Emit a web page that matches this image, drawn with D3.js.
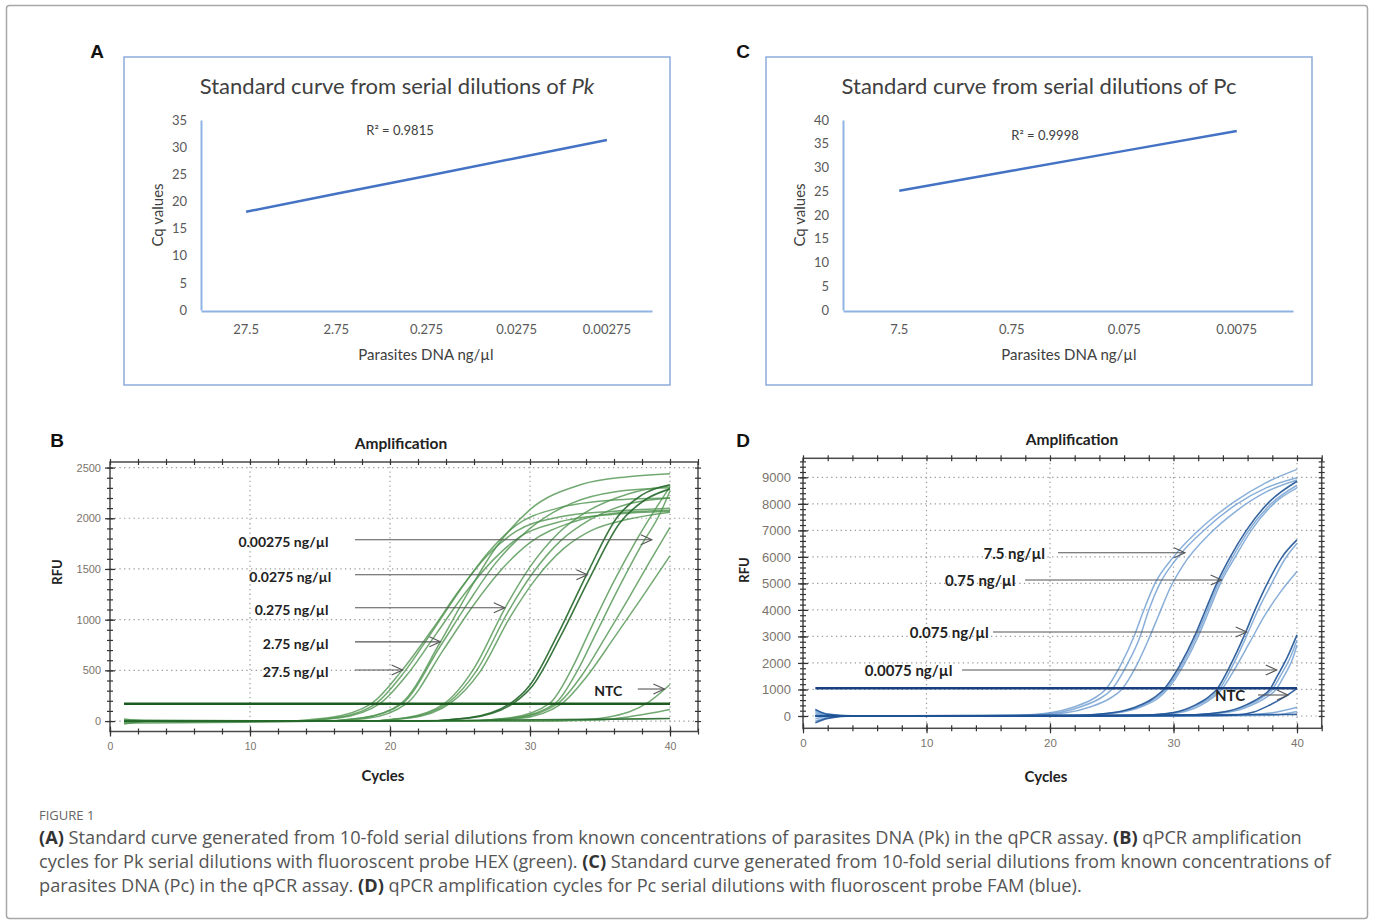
<!DOCTYPE html>
<html>
<head>
<meta charset="utf-8">
<script src="https://cdn.jsdelivr.net/npm/d3@7"></script>
<style>
  body { margin: 0; background: #fff; }
  text { font-family: Lato, "Open Sans", sans-serif; }
</style>
</head>
<body>
<script>
// ---- standard curves (A, C) ----
const pkDilutions = ["27.5", "2.75", "0.275", "0.0275", "0.00275"];
const pkCq = [18.1, 21.4, 24.7, 28.0, 31.3];
const pkCqTicks = [0, 5, 10, 15, 20, 25, 30, 35];

const pcDilutions = ["7.5", "0.75", "0.075", "0.0075"];
const pcCq = [25.1, 29.3, 33.5, 37.7];
const pcCqTicks = [0, 5, 10, 15, 20, 25, 30, 35, 40];

// ---- amplification curves (B, D): [cycle, RFU] ----
const cycleTicks = [0, 10, 20, 30, 40];
const pkRfuTicks = [0, 500, 1000, 1500, 2000, 2500];
const pcRfuTicks = [0, 1000, 2000, 3000, 4000, 5000, 6000, 7000, 8000, 9000];
const pkThreshold = 170;
const pcThreshold = 1044;

const pkCurves = [
  [[1,-30],[3,0],[12,0],[15.5,30],[18.7,175],[20.8,490],[23,900],[25,1300],[27,1640],[29,1870],[32,2010],[36,2070],[40,2100]],
  [[1,20],[3,0],[13,0],[16,30],[19,175],[21,480],[23,880],[25,1290],[27,1660],[29,1930],[32,2100],[36,2180],[40,2200]],
  [[1,-10],[3,0],[13,0],[16.3,30],[19.3,175],[21.3,470],[23.3,860],[25.3,1250],[27.3,1580],[29.3,1820],[32,1960],[36,2040],[40,2070]],
  [[1,0],[15,0],[18,30],[20.8,175],[23.6,780],[25.5,1250],[27.5,1700],[30,2085],[33.6,2330],[37,2410],[40,2440]],
  [[1,10],[15,0],[18,30],[20.9,175],[23.6,740],[25.5,1150],[27.5,1550],[30,1900],[33,2150],[36,2260],[40,2300]],
  [[1,-20],[15,0],[18.3,25],[21.2,175],[23.8,700],[26,1150],[28,1500],[30,1760],[33,1960],[36,2050],[40,2080]],
  [[1,0],[18,0],[21,30],[23.9,175],[26,520],[28.2,1110],[30,1520],[32,1850],[34,2060],[37,2240],[40,2320]],
  [[1,0],[18,0],[21.2,30],[24.1,175],[26.2,500],[28.4,1070],[30.2,1460],[32.2,1780],[34.2,1980],[37,2140],[40,2200]],
  [[1,0],[18,0],[21.4,30],[24.3,175],[26.4,480],[28.6,1030],[30.4,1400],[32.4,1700],[34.4,1880],[37,1990],[40,2060]],
  [[1,0],[25,0],[28.5,30],[31.4,175],[33,520],[34.3,900],[36,1380],[37.5,1760],[39,2100],[40,2310]],
  [[1,0],[25,0],[28.8,30],[31.8,175],[33.4,500],[34.7,860],[36.4,1330],[37.9,1720],[39.3,2050],[40,2270]],
  [[1,0],[25,0],[29,30],[32,175],[33.8,470],[35.4,830],[37,1200],[38.5,1560],[40,1910]],
  [[1,0],[25,0],[29.2,25],[32.3,175],[34,430],[36,820],[38,1220],[40,1630]],
  [[1,0],[30,0],[34,15],[36,50],[37.1,92],[38.5,190],[40,360]],
  [[1,0],[30,0],[35,10],[37,40],[38.5,75],[40,115]]
];
const pkCurvesDark = [
  [[1,-5],[20,0],[40,25]],
  [[1,0],[22,0],[25.5,30],[28.6,175],[30,356],[32,860],[34.1,1460],[36.2,2005],[38,2230],[40,2330]],
  [[1,0],[22,0],[25.7,30],[28.8,175],[30.2,350],[32.2,840],[34.3,1420],[36.4,1950],[38.2,2180],[40,2290]]
];

const pcCurves = [
  [[1,220],[2,80],[4,10],[10,0],[17,20],[20,120],[22,350],[23.5,650],[24.5,1000],[25.7,1900],[26.8,3000],[27.6,4000],[28.5,5000],[30,6000],[32.5,7200],[35,8100],[37.5,8800],[40,9300]],
  [[1,-200],[2,-60],[4,0],[10,0],[17,15],[20.5,120],[22.5,350],[24,650],[25,1000],[26.2,1900],[27.3,3000],[28,4000],[28.9,5000],[30.2,5900],[32.7,7100],[35,7950],[37.5,8600],[40,8980]],
  [[1,120],[2,30],[4,0],[10,0],[18,15],[21.3,120],[23.3,350],[24.8,650],[25.8,1000],[27,1900],[27.9,2800],[28.8,3800],[29.7,4800],[30.8,5700],[33,6900],[35,7700],[37.5,8450],[40,8900]],
  [[1,180],[2,50],[4,0],[15,0],[22.2,20],[25.2,120],[27.2,350],[28.5,650],[29.35,1000],[30.65,1900],[31.85,3000],[32.75,4000],[33.65,5000],[34.8,6000],[36.1,7000],[37.9,8000],[40,8700]],
  [[1,-100],[2,-20],[4,0],[15,0],[22.4,20],[25.4,120],[27.4,350],[28.7,650],[29.5,1000],[30.8,1900],[32,3000],[32.9,4000],[33.8,5000],[35,6000],[36.3,7000],[38.1,8000],[40,8600]],
  [[1,60],[4,0],[20,0],[27.2,20],[30.2,130],[31.9,400],[33,700],[33.7,1000],[34.9,2000],[35.9,3000],[36.8,3950],[37.9,4950],[39,5900],[40,6500]],
  [[1,0],[4,0],[20,0],[27.5,20],[30.5,130],[32.2,400],[33.2,700],[33.9,1000],[35,1800],[36.2,2800],[37.4,3800],[38.7,4700],[40,5450]],
  [[1,0],[20,0],[30,20],[34.2,150],[36,400],[37.2,700],[38,1000],[38.7,1550],[39.4,2150],[40,2870]],
  [[1,0],[20,0],[30,20],[34.5,150],[36.3,400],[37.5,700],[38.3,1000],[39,1550],[39.6,2100],[40,2680]],
  [[1,0],[30,0],[36,40],[38,120],[40,330]],
  [[1,0],[32,0],[38,30],[40,170]]
];
const pcCurvesDark = [
  [[1,-260],[2,-90],[4,0],[15,0],[22,20],[25,120],[27,350],[28.3,650],[29.2,1000],[30.5,1900],[31.7,3000],[32.6,4000],[33.5,5000],[34.6,6000],[35.9,7000],[37.6,8000],[40,8850]],
  [[1,0],[4,0],[20,0],[27,20],[30,130],[31.7,400],[32.8,700],[33.5,1000],[34.7,2000],[35.7,3000],[36.6,4000],[37.6,5000],[38.8,6000],[40,6640]],
  [[1,0],[20,0],[30,20],[34,150],[35.8,400],[37,700],[37.8,1000],[38.4,1500],[39.2,2200],[40,3060]],
  [[1,0],[20,0],[33,20],[35.1,40],[36.5,150],[37.8,415],[39,720],[40,1045]],
  [[1,250],[2,60],[4,0],[40,60]]
];

// annotations: label, arrow RFU, arrow start / end cycle, label right edge (cycle)
const pkLabels = ["0.00275 ng/µl", "0.0275 ng/µl", "0.275 ng/µl", "2.75 ng/µl", "27.5 ng/µl", "NTC"];
const pkArrowRfu = [1788, 1443, 1117, 781, 504, 316];
const pkArrowFrom = [17.5, 17.5, 17.5, 17.5, 17.5, 37.7];
const pkArrowTo = [38.7, 34.1, 28.2, 23.6, 20.9, 39.6];
const pkLabelEnd = [15.6, 15.8, 15.6, 15.6, 15.6, 36.6];

const pcLabels = ["7.5 ng/µl", "0.75 ng/µl", "0.075 ng/µl", "0.0075 ng/µl", "NTC"];
const pcArrowRfu = [6157, 5128, 3167, 1734, 792];
const pcArrowFrom = [20.65, 17.98, 15.38, 12.87, 36.84];
const pcArrowTo = [30.93, 33.9, 35.93, 38.36, 39.27];
const pcLabelEnd = [19.6, 17.2, 15.05, 12.1, 35.8];

const captionLines = [
  [["(A)", true], [" Standard curve generated from 10-fold serial dilutions from known concentrations of parasites DNA (Pk) in the qPCR assay. ", false], ["(B)", true], [" qPCR amplification", false]],
  [["cycles for Pk serial dilutions with fluoroscent probe HEX (green). ", false], ["(C)", true], [" Standard curve generated from 10-fold serial dilutions from known concentrations of", false]],
  [["parasites DNA (Pc) in the qPCR assay. ", false], ["(D)", true], [" qPCR amplification cycles for Pc serial dilutions with fluoroscent probe FAM (blue).", false]]
];

let width = 1375;
let height = 923;

let svg = d3.select("body").append("svg")
  .attr("width", width)
  .attr("height", height);

// outer frame
svg.append("rect")
  .attr("x", 6.5).attr("y", 5.5)
  .attr("width", 1361).attr("height", 913)
  .attr("rx", 3)
  .attr("fill", "none")
  .attr("stroke", "#a8a8a8")
  .attr("stroke-width", 1.5);

// panel letters
[["A", 97, 51], ["C", 743, 51], ["B", 57, 440], ["D", 743, 440]].forEach(([t, x, y]) => {
  svg.append("text").attr("x", x).attr("y", y + 7)
    .attr("text-anchor", "middle")
    .style("font-family", "'Liberation Sans', Arial, sans-serif")
    .style("font-weight", "bold").style("font-size", "19px")
    .attr("fill", "#111").text(t);
});

// ---------- standard curve panels ----------
let standardCurve = (o) => {
  let g = svg.append("g");
  g.append("rect")
    .attr("x", o.frame[0]).attr("y", 57)
    .attr("width", o.frame[1] - o.frame[0]).attr("height", 328)
    .attr("fill", "#fff")
    .attr("stroke", "#8eaadb")
    .attr("stroke-width", 1.5);

  let title = g.append("text")
    .attr("x", (o.frame[0] + o.frame[1]) / 2).attr("y", 94)
    .attr("text-anchor", "middle")
    .attr("fill", "#404040")
    .style("font-size", "22px")
    .text(o.title);
  title.append("tspan").style("font-style", o.italic ? "italic" : "normal").text(o.species);

  let x = d3.scaleBand().domain(o.labels).range([o.x0, o.x1]);
  let y = d3.scaleLinear().domain([0, o.yMax]).range([310, 120]);

  let yAxis = g.append("g")
    .attr("transform", `translate(${o.x0},0)`)
    .call(d3.axisLeft(y).tickValues(o.ticks).tickSize(0).tickPadding(14));
  yAxis.select(".domain").attr("stroke", "#8fb4e3").attr("stroke-width", 2);
  yAxis.selectAll("text").attr("fill", "#595959").style("font-size", "13px")
    .style("font-family", "Lato, sans-serif");

  let xAxis = g.append("g")
    .attr("transform", `translate(0,${y(0) + 1})`)
    .call(d3.axisBottom(x).tickSize(0).tickPadding(14));
  xAxis.select(".domain").attr("stroke", "#8fb4e3").attr("stroke-width", 2);
  xAxis.selectAll("text").attr("fill", "#595959").style("font-size", "13px")
    .style("font-family", "Lato, sans-serif");

  g.append("path")
    .datum(o.values)
    .attr("fill", "none")
    .attr("stroke", "#4472c4")
    .attr("stroke-width", 2.5)
    .attr("d", d3.line()
      .x((d, i) => x(o.labels[i]) + x.bandwidth() / 2)
      .y((d) => y(d)));

  g.append("text")
    .attr("x", o.r2[0]).attr("y", o.r2[1] + 4)
    .attr("text-anchor", "middle")
    .attr("fill", "#404040").style("font-size", "13px")
    .text(o.r2text);

  g.append("text")
    .attr("transform", `translate(${o.x0 - 38},215) rotate(-90)`)
    .attr("text-anchor", "middle")
    .attr("fill", "#404040").style("font-size", "15px")
    .text("Cq values");

  g.append("text")
    .attr("x", o.xTitle).attr("y", 360)
    .attr("text-anchor", "middle")
    .attr("fill", "#404040").style("font-size", "15px")
    .text("Parasites DNA ng/µl");
};

standardCurve({
  frame: [124, 670], x0: 201, x1: 652, yMax: 35, ticks: pkCqTicks,
  labels: pkDilutions, values: pkCq,
  title: "Standard curve from serial dilutions of ", species: "Pk", italic: true,
  r2: [400, 131], r2text: "R² = 0.9815", xTitle: 426
});
standardCurve({
  frame: [766, 1312], x0: 843, x1: 1293, yMax: 40, ticks: pcCqTicks,
  labels: pcDilutions, values: pcCq,
  title: "Standard curve from serial dilutions of ", species: "Pc", italic: false,
  r2: [1045, 136], r2text: "R² = 0.9998", xTitle: 1069
});

// ---------- amplification panels ----------
let ampPlot = (o) => {
  let g = svg.append("g");
  let x = d3.scaleLinear().domain([0, 42]).range([o.left, o.right]);
  let y = d3.scaleLinear().domain(o.yDomain).range([o.bottom, o.top]);

  // dotted grid
  g.append("g").selectAll("line").data(o.yTicks).enter().append("line")
    .attr("x1", o.left).attr("x2", o.right)
    .attr("y1", (d) => y(d)).attr("y2", (d) => y(d))
    .attr("stroke", "#9a9a9a").attr("stroke-width", 1.2)
    .attr("stroke-dasharray", "1.3,3.4");
  g.append("g").selectAll("line").data(cycleTicks.slice(1)).enter().append("line")
    .attr("x1", (d) => x(d)).attr("x2", (d) => x(d))
    .attr("y1", o.top).attr("y2", o.bottom)
    .attr("stroke", "#9a9a9a").attr("stroke-width", 1.2)
    .attr("stroke-dasharray", "1.3,3.4");

  let line = d3.line()
    .x((d) => x(d[0]))
    .y((d) => y(d[1]))
    .curve(d3.curveMonotoneX);

  g.append("g").selectAll("path").data(o.light).enter().append("path")
    .attr("fill", "none")
    .attr("stroke", o.lightColor).attr("stroke-width", 1.5)
    .attr("stroke-opacity", 0.8)
    .attr("d", line);
  g.append("g").selectAll("path").data(o.dark).enter().append("path")
    .attr("fill", "none")
    .attr("stroke", o.darkColor).attr("stroke-width", 1.6)
    .attr("stroke-opacity", 0.9)
    .attr("d", line);

  // threshold
  g.append("line")
    .attr("x1", x(1)).attr("x2", x(40))
    .attr("y1", y(o.threshold)).attr("y2", y(o.threshold))
    .attr("stroke", o.thresholdColor).attr("stroke-width", 2.4);

  // frame
  g.append("rect")
    .attr("x", o.left).attr("y", o.top)
    .attr("width", o.right - o.left).attr("height", o.bottom - o.top)
    .attr("fill", "none").attr("stroke", "#4a4a4a").attr("stroke-width", 1.5);

  // tick marks on all four sides (both directions)
  let minorX = d3.range(0, 42.1, 2);
  let minorY = d3.range(o.yTicks[0], o.yDomain[1], o.minorStep).filter((d) => y(d) > o.top + 2);
  let tickSets = [
    [d3.axisLeft(y).tickValues(minorY), `translate(${o.left},0)`, 3],
    [d3.axisRight(y).tickValues(minorY), `translate(${o.left},0)`, 3],
    [d3.axisLeft(y).tickValues(o.yTicks), `translate(${o.left},0)`, 5],
    [d3.axisRight(y).tickValues(o.yTicks), `translate(${o.left},0)`, 5],
    [d3.axisLeft(y).tickValues(minorY), `translate(${o.right},0)`, 3],
    [d3.axisRight(y).tickValues(minorY), `translate(${o.right},0)`, 3],
    [d3.axisBottom(x).tickValues(minorX), `translate(0,${o.bottom})`, 3],
    [d3.axisTop(x).tickValues(minorX), `translate(0,${o.bottom})`, 3],
    [d3.axisBottom(x).tickValues(cycleTicks), `translate(0,${o.bottom})`, 5],
    [d3.axisTop(x).tickValues(cycleTicks), `translate(0,${o.bottom})`, 5],
    [d3.axisBottom(x).tickValues(minorX), `translate(0,${o.top})`, 3],
    [d3.axisTop(x).tickValues(minorX), `translate(0,${o.top})`, 3]
  ];
  tickSets.forEach(([ax, tr, size]) => {
    let a = g.append("g").attr("transform", tr)
      .call(ax.tickSize(size).tickFormat(""));
    a.select(".domain").remove();
    a.selectAll("line").attr("stroke", "#333").attr("stroke-width", 1.2);
  });

  // tick labels
  let yLab = g.append("g").attr("transform", `translate(${o.left},0)`)
    .call(d3.axisLeft(y).tickValues(o.yTicks).tickFormat(d3.format("d")).tickSize(0).tickPadding(o.yPad));
  yLab.select(".domain").remove();
  yLab.selectAll("text").attr("fill", o.tickColor)
    .style("font-size", o.yFont).style("font-family", "'Liberation Sans', Arial, sans-serif");
  let xLab = g.append("g").attr("transform", `translate(0,${o.bottom})`)
    .call(d3.axisBottom(x).tickValues(cycleTicks).tickFormat(d3.format("d")).tickSize(0).tickPadding(o.xPad));
  xLab.select(".domain").remove();
  xLab.selectAll("text").attr("fill", o.tickColor)
    .style("font-size", o.xFont).style("font-family", "'Liberation Sans', Arial, sans-serif");

  // titles
  g.append("text").attr("x", o.titlePos[0]).attr("y", o.titlePos[1] + 5)
    .attr("text-anchor", "middle").style("font-weight", "bold").style("font-size", "15.5px")
    .attr("fill", "#222").text("Amplification");
  g.append("text").attr("x", o.cyclesPos[0]).attr("y", o.cyclesPos[1] + 5)
    .attr("text-anchor", "middle").style("font-weight", "bold").style("font-size", "15px")
    .attr("fill", "#222").text("Cycles");
  g.append("text")
    .attr("transform", `translate(${o.rfuPos[0] + 5},${o.rfuPos[1]}) rotate(-90)`)
    .attr("text-anchor", "middle").style("font-weight", "bold").style("font-size", "13px")
    .attr("fill", "#222").text("RFU");

  // annotations
  o.labels.forEach((t, i) => {
    let ay = y(o.arrowRfu[i]);
    let x1 = x(o.arrowFrom[i]);
    let x2 = x(o.arrowTo[i]);
    g.append("line").attr("x1", x1).attr("x2", x2).attr("y1", ay).attr("y2", ay)
      .attr("stroke", "#555").attr("stroke-width", 1.1);
    g.append("polyline")
      .attr("points", `${x2 - 11},${ay - 5} ${x2},${ay} ${x2 - 11},${ay + 5}`)
      .attr("fill", "none").attr("stroke", "#555").attr("stroke-width", 1.1);
    g.append("text")
      .attr("x", x(o.labelEnd[i])).attr("y", ay + o.labelDy)
      .attr("text-anchor", "end")
      .style("font-weight", "bold").style("font-size", o.labelFont)
      .attr("fill", "#222").text(t);
  });
};

ampPlot({
  left: 110, right: 698, top: 462, bottom: 731.5, yDomain: [-103, 2555],
  yTicks: pkRfuTicks, minorStep: 100, threshold: pkThreshold,
  light: pkCurves, dark: pkCurvesDark,
  lightColor: "#4f934f", darkColor: "#25672a", thresholdColor: "#1d5a1f",
  tickColor: "#7a746c", yFont: "11px", xFont: "10.5px", yPad: 9, xPad: 11,
  titlePos: [401, 444], cyclesPos: [383, 776], rfuPos: [57, 572],
  labels: pkLabels, arrowRfu: pkArrowRfu, arrowFrom: pkArrowFrom, arrowTo: pkArrowTo,
  labelEnd: pkLabelEnd, labelDy: 7, labelFont: "14px"
});
ampPlot({
  left: 803, right: 1321.7, top: 458.3, bottom: 728.3, yDomain: [-464, 9717],
  yTicks: pcRfuTicks, minorStep: 200, threshold: pcThreshold,
  light: pcCurves, dark: pcCurvesDark,
  lightColor: "#6b9bd0", darkColor: "#1f5396", thresholdColor: "#1a3f7e",
  tickColor: "#7a746c", yFont: "13px", xFont: "11.5px", yPad: 12, xPad: 11,
  titlePos: [1072, 440], cyclesPos: [1046, 777], rfuPos: [744, 570],
  labels: pcLabels, arrowRfu: pcArrowRfu, arrowFrom: pcArrowFrom, arrowTo: pcArrowTo,
  labelEnd: pcLabelEnd, labelDy: 6, labelFont: "15px"
});

// ---------- caption ----------
svg.append("text")
  .attr("x", 39).attr("y", 820)
  .attr("fill", "#666")
  .style("font-family", "'Open Sans', sans-serif")
  .style("font-size", "13px")
  .text("FIGURE 1");

captionLines.forEach((parts, i) => {
  let t = svg.append("text")
    .attr("x", 39).attr("y", 844 + i * 24)
    .attr("fill", "#555")
    .style("font-family", "'Open Sans', sans-serif")
    .style("font-size", "18.2px");
  parts.forEach(([s, bold]) => {
    t.append("tspan").style("font-weight", bold ? "bold" : "normal")
      .attr("fill", bold ? "#333" : "#555").text(s);
  });
});
</script>
</body>
</html>
